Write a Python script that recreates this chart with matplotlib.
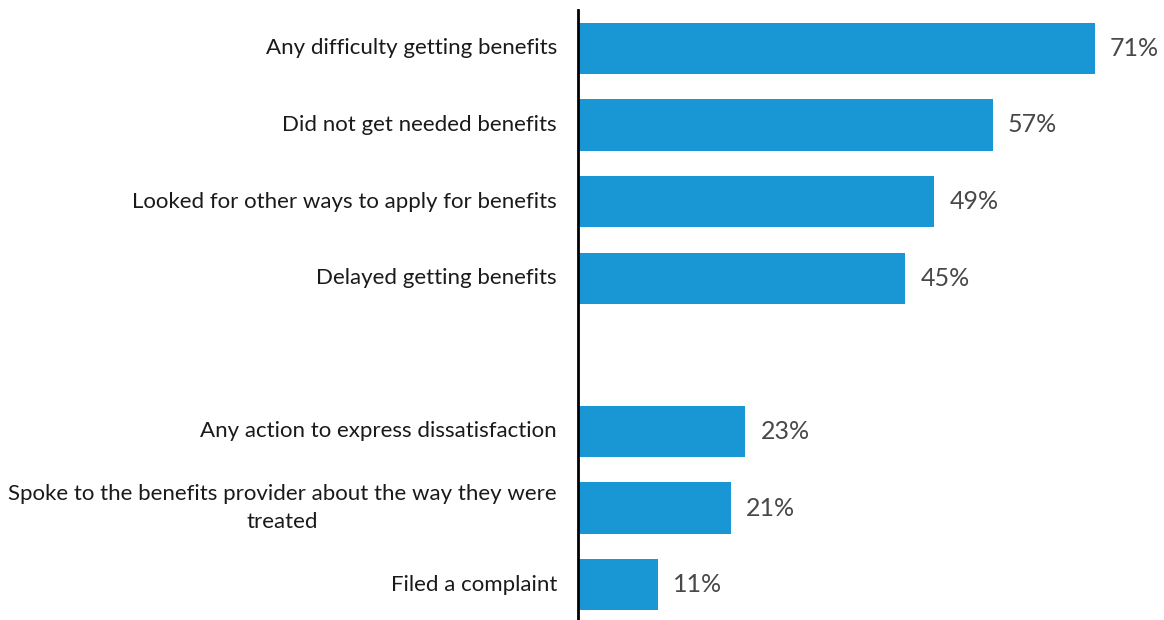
import matplotlib
import matplotlib.pyplot as plt

matplotlib.use('Agg')

labels = [
    "Any difficulty getting benefits",
    "Did not get needed benefits",
    "Looked for other ways to apply for benefits",
    "Delayed getting benefits",
    "Any action to express dissatisfaction",
    "Spoke to the benefits provider about the way they were\ntreated",
    "Filed a complaint",
]
values = [71, 57, 49, 45, 23, 21, 11]
positions = [0, 1, 2, 3, 5, 6, 7]  # slot 4 left empty as a gap

plt.rcParams['font.family'] = ['Lato', 'DejaVu Sans']

fig = plt.figure(figsize=(11.64, 6.2), dpi=100)
ax = fig.add_axes([578 / 1164, -3 / 620, 582 / 1164, 613 / 620])

ax.barh(positions, values, height=0.67, color='#1897d4')
ax.set_ylim(7.5, -0.5)
ax.set_xlim(0, 80)

for p, v in zip(positions, values):
    ax.text(v + 2.1, p, f"{v}%", va='center', ha='left', fontsize=18,
            color='#484848')

for p, lab in zip(positions, labels):
    ax.text(-2.9, p, lab, va='center', ha='right', multialignment='center',
            fontsize=16, color='#1a1a1a', linespacing=1.5)

for s in ['top', 'right', 'bottom']:
    ax.spines[s].set_visible(False)
ax.spines['left'].set_linewidth(2)
ax.spines['left'].set_color('black')
ax.set_xticks([])
ax.set_yticks([])

fig.savefig('out.png', dpi=100)
